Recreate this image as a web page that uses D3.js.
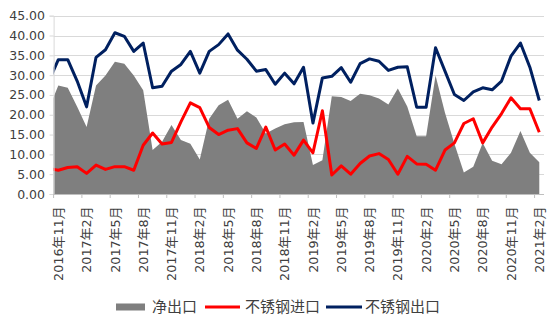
<!DOCTYPE html>
<html><head><meta charset="utf-8">
<script src="https://cdn.jsdelivr.net/npm/d3@7"></script>
<style>body{margin:0;background:#fff}svg{display:block}</style>
</head><body>
<svg id="c" width="550" height="324"></svg>
<script>
// first entry (2016年10月) is only partly visible at the left edge of the plot
const months = ["2016年10月","2016年11月","2016年12月",
 "2017年1月","2017年2月","2017年3月","2017年4月","2017年5月","2017年6月","2017年7月","2017年8月","2017年9月","2017年10月","2017年11月","2017年12月",
 "2018年1月","2018年2月","2018年3月","2018年4月","2018年5月","2018年6月","2018年7月","2018年8月","2018年9月","2018年10月","2018年11月","2018年12月",
 "2019年1月","2019年2月","2019年3月","2019年4月","2019年5月","2019年6月","2019年7月","2019年8月","2019年9月","2019年10月","2019年11月","2019年12月",
 "2020年1月","2020年2月","2020年3月","2020年4月","2020年5月","2020年6月","2020年7月","2020年8月","2020年9月","2020年10月","2020年11月","2020年12月",
 "2021年1月","2021年2月"];
const netExport = [21.6,27.4,26.8,22.0,16.9,27.4,29.9,33.4,32.9,29.9,26.2,11.1,13.2,17.4,13.6,12.7,8.7,19.0,22.4,23.8,19.0,20.9,19.3,15.3,16.5,17.6,18.1,18.2,7.3,8.5,24.7,24.5,23.5,25.3,24.9,24.1,22.6,26.6,22.1,14.6,14.6,29.9,20.5,12.7,5.4,6.9,12.9,8.4,7.5,10.4,15.9,10.4,8.0];
const ssImport  = [6.4,6.0,6.7,6.9,5.2,7.3,6.2,6.9,6.9,6.0,12.3,15.4,12.6,13.0,18.2,23.0,21.8,16.8,15.0,16.1,16.5,12.9,11.5,16.9,11.1,12.6,9.8,13.6,10.4,21.0,4.8,7.1,5.0,7.7,9.6,10.2,8.7,5.0,9.5,7.6,7.5,6.0,11.1,12.9,17.8,19.0,12.9,16.9,20.3,24.3,21.5,21.5,15.6];
const ssExport  = [28.5,33.9,33.9,28.5,22.0,34.5,36.4,40.7,39.8,36.0,38.1,26.8,27.2,31.0,32.7,36.0,30.5,36.0,37.7,40.4,36.3,34.0,31.0,31.4,27.7,30.5,27.8,32.0,17.9,29.3,29.7,31.9,28.2,32.9,34.1,33.5,31.2,32.0,32.1,21.9,21.9,36.9,31.0,25.1,23.6,25.8,26.8,26.3,28.5,34.8,38.1,32.0,23.6];
const xTickLabels = ["2016年11月","2017年2月","2017年5月","2017年8月","2017年11月","2018年2月","2018年5月","2018年8月","2018年11月","2019年2月","2019年5月","2019年8月","2019年11月","2020年2月","2020年5月","2020年8月","2020年11月","2021年2月"];
const yTicks = [0,5,10,15,20,25,30,35,40,45];
const seriesNames = ["净出口","不锈钢进口","不锈钢出口"];
const seriesColors = ["#7f7f7f","#ff0000","#002060"];

const svg = d3.select("#c");
const L = 53.6, R = 544, T = 15.7, B = 194;
const bw0 = (R - L) / (months.length - 1);
const x = d3.scaleBand().domain(months).range([L - bw0, R]);
const bw = x.bandwidth();
const cx = m => x(m) + bw / 2;
const y = d3.scaleLinear().domain([0, 45]).range([B, T]);

// gridlines
svg.append("g").selectAll("line").data(yTicks.filter(d => d > 0)).join("line")
  .attr("x1", L).attr("x2", R)
  .attr("y1", d => Math.round(y(d)) + 0.5).attr("y2", d => Math.round(y(d)) + 0.5)
  .attr("stroke", "#d9d9d9").attr("stroke-width", 1.2);

svg.append("defs").append("clipPath").attr("id", "plot")
  .append("rect").attr("x", L).attr("y", 0).attr("width", R - L).attr("height", B);

const plot = svg.append("g").attr("clip-path", "url(#plot)");
const area = d3.area().x((d, i) => cx(months[i])).y0(y(0)).y1(d => y(d));
plot.append("path").datum(netExport).attr("d", area).attr("fill", seriesColors[0]);
const line = d3.line().x((d, i) => cx(months[i])).y(d => y(d));
[[ssImport, seriesColors[1]], [ssExport, seriesColors[2]]].forEach(([arr, col]) => {
  plot.append("path").datum(arr).attr("d", line).attr("fill", "none")
    .attr("stroke", col).attr("stroke-width", 3).attr("stroke-linejoin", "round");
});

// y axis
const ya = svg.append("g").attr("transform", `translate(${L},0)`)
  .call(d3.axisLeft(y).tickValues(yTicks).tickFormat(d3.format(".2f")).tickSize(4).tickPadding(4.6));
ya.select(".domain").attr("stroke", "#d9d9d9");
ya.selectAll(".tick line").attr("stroke", "#d9d9d9");
ya.selectAll("text").attr("font-family", "DejaVu Sans").attr("font-size", 12.5).attr("fill", "#404040");

// x axis
const xa = svg.append("g").attr("transform", `translate(0,${B})`)
  .call(d3.axisBottom(x).tickValues(xTickLabels).tickSize(4).tickSizeOuter(0));
xa.select(".domain").attr("stroke", "#bfbfbf").attr("d", `M${L},0.5H${R}`);
xa.selectAll(".tick line").attr("stroke", "#bfbfbf").attr("x1", -bw / 2).attr("x2", -bw / 2);
xa.selectAll(".tick text")
  .attr("transform", "rotate(-90)").attr("x", -12.5).attr("y", 0).attr("dy", "0.36em")
  .style("text-anchor", "end")
  .attr("font-family", "DejaVu Sans, 'Noto Sans CJK SC'").attr("font-size", 12.8).attr("fill", "#404040");

// legend
const lg = svg.append("g").attr("font-family", "'Noto Sans CJK SC'").attr("font-size", 15).attr("fill", "#404040");
const ly = 307;
lg.append("rect").attr("x", 116).attr("y", ly - 3.5).attr("width", 29).attr("height", 7).attr("fill", seriesColors[0]);
lg.append("text").attr("x", 152).attr("y", ly).attr("dy", "0.35em").text(seriesNames[0]);
lg.append("line").attr("x1", 205).attr("x2", 240).attr("y1", ly).attr("y2", ly).attr("stroke", seriesColors[1]).attr("stroke-width", 3);
lg.append("text").attr("x", 245).attr("y", ly).attr("dy", "0.35em").text(seriesNames[1]);
lg.append("line").attr("x1", 326).attr("x2", 362).attr("y1", ly).attr("y2", ly).attr("stroke", seriesColors[2]).attr("stroke-width", 3);
lg.append("text").attr("x", 365).attr("y", ly).attr("dy", "0.35em").text(seriesNames[2]);
</script>
</body></html>
